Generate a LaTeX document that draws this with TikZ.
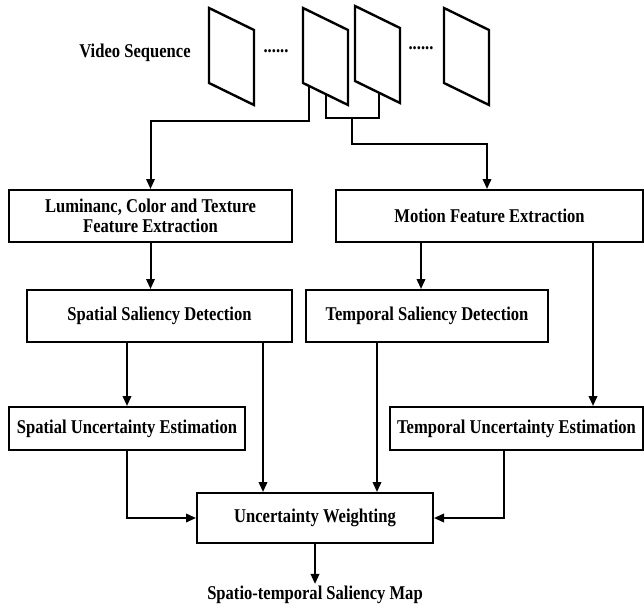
\documentclass[tikz,border=0pt]{standalone}
\usepackage{fontspec}
\setmainfont{Liberation Serif}[FakeStretch=0.85]
\usetikzlibrary{arrows.meta}

\begin{document}
\begin{tikzpicture}%
  [x=1pt,y=-1pt,font=\bfseries\fontsize{19.5}{20}\selectfont]
  \tikzstyle{box node}=[rectangle,draw,line width=2pt,inner sep=0,align=center]
  \tikzstyle{frame}=[line width=2.4pt,line join=miter]
  \tikzstyle{line}=[line width=2pt]
  \tikzstyle{arr}=[line width=2pt,-{Triangle[length=10pt,width=8.5pt]}]
  \useasboundingbox (0,0) rectangle (644,607);
  % video frames
  \node(vs) at (135,53) {Video Sequence};
  \foreach \x/\y in {209/8,303/8,355/6,444/8}
    \draw[frame] (\x,\y) -- ++(45,22) -- ++(0,75) -- ++(-45,-22) -- cycle;
  \node(dotsa) at (276,51) {......};
  \node(dotsb) at (421,48) {......};
  \coordinate(f2a) at (309,86);
  \coordinate(f2b) at (326,94.5);
  \coordinate(f3b) at (379,92);
  \coordinate(mid) at (352,118);
  % blocks
  \node(lum)[box node,minimum width=283,minimum height=52] at (150.5,216)
    {Luminanc, Color and Texture\\Feature Extraction};
  \node(mot)[box node,minimum width=307,minimum height=52] at (489.5,216)
    {Motion Feature Extraction};
  \node(ssd)[box node,minimum width=265,minimum height=52] at (159.5,316)
    {Spatial Saliency Detection};
  \node(tsd)[box node,minimum width=242,minimum height=52] at (427,316)
    {Temporal Saliency Detection};
  \node(sue)[box node,minimum width=236,minimum height=43] at (127,428.5)
    {Spatial Uncertainty Estimation};
  \node(tue)[box node,minimum width=253,minimum height=43] at (516.5,428.5)
    {Temporal Uncertainty Estimation};
  \node(uw)[box node,minimum width=236,minimum height=50] at (315,518)
    {Uncertainty Weighting};
  \node(out)[inner sep=2pt] at (315,595) {Spatio-temporal Saliency Map};
  % connections
  \draw[arr] (f2a) -- ++(0,35) -| (lum.north);
  \draw[line] (f2b) -- ++(0,23.5) -| (f3b);
  \draw[arr] (mid) -- ++(0,26) -| ([xshift=-2.5pt]mot.north);
  \draw[arr] (lum.south) -- (lum.south |- ssd.north);
  \draw[arr] ([xshift=-6pt]tsd.north |- mot.south) -- ([xshift=-6pt]tsd.north);
  \draw[arr] ([xshift=76.5pt]tue.north |- mot.south) -- ([xshift=76.5pt]tue.north);
  \draw[arr] (sue.north |- ssd.south) -- (sue.north);
  \draw[arr] ([xshift=-52pt]uw.north |- ssd.south) -- ([xshift=-52pt]uw.north);
  \draw[arr] ([xshift=62pt]uw.north |- tsd.south) -- ([xshift=62pt]uw.north);
  \draw[arr] (sue.south) |- (uw.west);
  \draw[arr] ([xshift=-12.5pt]tue.south) |- (uw.east);
  \draw[arr] (uw.south) -- (out.north);
\end{tikzpicture}
\end{document}
